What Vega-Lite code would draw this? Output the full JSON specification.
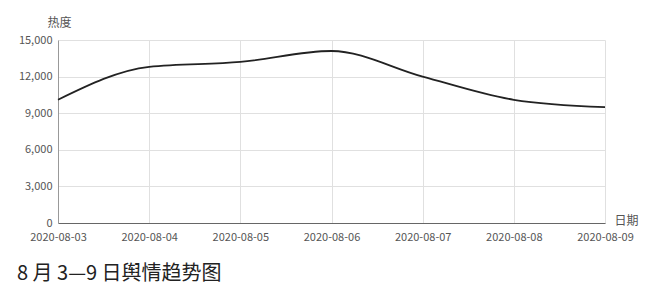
{
  "$schema": "https://vega.github.io/schema/vega-lite/v6.json",
  "width": 547,
  "height": 183,
  "autosize": {"type": "none"},
  "padding": {"left": 58, "top": 40, "right": 50, "bottom": 63},
  "background": "white",
  "data": {"values": [
    {"date": "2020-08-03", "heat": 10100},
    {"date": "2020-08-04", "heat": 12800},
    {"date": "2020-08-05", "heat": 13200},
    {"date": "2020-08-06", "heat": 14100},
    {"date": "2020-08-07", "heat": 12000},
    {"date": "2020-08-08", "heat": 10100},
    {"date": "2020-08-09", "heat": 9500}
  ]},
  "title": {
    "text": "8 月 3—9 日舆情趋势图",
    "orient": "bottom",
    "anchor": "start",
    "frame": "group",
    "dx": -41,
    "offset": 22,
    "fontSize": 20,
    "font": "Noto Sans CJK SC",
    "fontWeight": "normal",
    "color": "#222"
  },
  "mark": {"type": "line", "interpolate": "monotone", "color": "#222", "strokeWidth": 1.8},
  "encoding": {
    "x": {
      "field": "date", "type": "ordinal",
      "scale": {"type": "point", "padding": 0},
      "axis": {
        "title": "日期", "titleX": 556, "titleY": 1, "titleAlign": "left", "titleBaseline": "alphabetic",
        "titleFontSize": 12, "titleFontWeight": "normal", "titleColor": "#555", "titleFont": "Noto Sans CJK SC",
        "labelAngle": 0, "labelFontSize": 11, "labelColor": "#555", "labelFont": "Noto Sans CJK SC", "labelPadding": 8,
        "ticks": false, "domainColor": "#666", "gridColor": "#e0e0e0", "grid": true
      }
    },
    "y": {
      "field": "heat", "type": "quantitative",
      "scale": {"domain": [0, 15000]},
      "axis": {
        "title": "热度", "titleAngle": 0, "titleX": -11, "titleY": -14, "titleAlign": "left", "titleBaseline": "alphabetic",
        "titleFontSize": 12, "titleFontWeight": "normal", "titleColor": "#555", "titleFont": "Noto Sans CJK SC",
        "values": [0, 3000, 6000, 9000, 12000, 15000], "format": ",d",
        "labelFontSize": 11, "labelColor": "#555", "labelFont": "Noto Sans CJK SC", "labelPadding": 6,
        "ticks": false, "domainColor": "#999", "gridColor": "#e0e0e0"
      }
    }
  },
  "config": {"view": {"stroke": null}}
}
